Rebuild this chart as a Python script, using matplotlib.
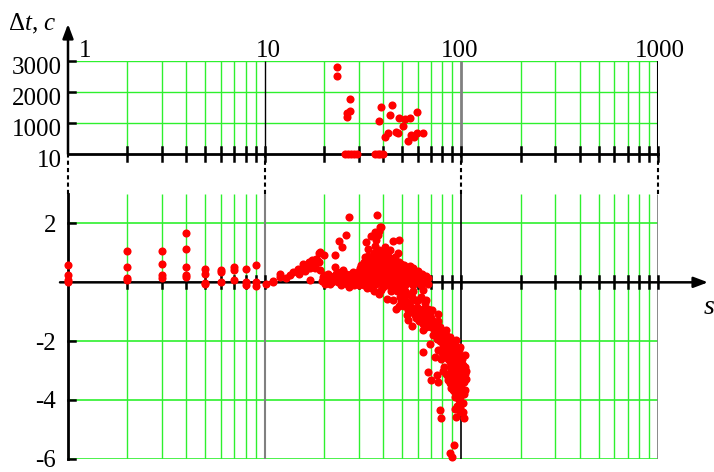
import matplotlib.pyplot as plt

plt.rcParams['font.family'] = ['Liberation Serif', 'DejaVu Serif']
plt.rcParams['mathtext.fontset'] = 'custom'
plt.rcParams['mathtext.rm'] = 'Liberation Serif'
plt.rcParams['mathtext.it'] = 'Liberation Serif:italic'

# ============================================================================
# data: s (log axis) vs delay dt
# ============================================================================

# upper panel: large delays
top_s = [23.2, 23.2, 27.2, 27.0, 26.1, 26.3, 25.6, 26.5, 27.5, 28.5, 29.5,
         39.2, 44.3, 38.2, 43.6, 48.3, 51.7, 54.8, 59.8, 50.3, 46.8, 47.6,
         42.3, 41.1, 53.5, 55.7, 59.2, 63.9, 57.4, 36.3, 37.5, 38.8, 40.0]
top_dt = [2817, 2527, 1769, 1402, 1318, 1210, 10, 10, 10, 10, 10,
          1511, 1585, 1071, 1264, 1158, 1126, 1158, 1370, 910, 727, 675,
          695, 566, 438, 621, 675, 695, 566, 10, 10, 10, 10]

# lower panel, small s
small_s = [1, 1, 1, 1, 2, 2, 2, 2, 3, 3, 3, 3, 4, 4, 4, 4, 4,
           5, 5, 5, 5, 6, 6, 6, 7, 7, 7, 8, 8, 8, 9, 9, 9,
           10.1, 11, 11, 12, 12, 12.9]
small_dt = [0.58, 0.24, 0.07, 0.0, 1.06, 0.52, 0.16, 0.09,
            1.08, 0.63, 0.26, 0.16, 1.67, 1.14, 0.52, 0.24, 0.18,
            0.46, 0.29, -0.02, -0.06, 0.41, 0.35, 0.0, 0.52, 0.41, 0.09,
            0.46, 0.0, -0.1, 0.58, 0.0, -0.12,
            -0.05, 0.05, 0.0, 0.18, 0.29, 0.16]

# rising part, s = 13..30
rise_s = [13.5, 14, 14.8, 15.1, 15.7, 16, 16.3, 16.9, 17, 17.5, 17.7, 18,
          18.2, 18.4, 18.9, 19.1, 19.1, 19.5, 19.8, 20, 20.2, 20.5, 21,
          21.5, 21.7, 22, 22.5, 22.7, 22.9, 23, 23.4, 23.5, 23.9, 24, 24.5,
          24.8, 25, 25, 25.5, 25.9, 26, 26.1, 26.5, 26.8, 26.8, 27.2, 27.5,
          28, 28.5, 29.2, 29.5,
          15, 16, 17, 18, 19, 20, 21, 21.5, 22, 23, 24, 24.5, 25, 26, 27,
          27.5, 28, 29]
rise_dt = [0.25, 0.35, 0.46, 0.41, 0.63, 0.55, 0.46, 0.69, 0.07, 0.75, 0.58,
           0.5, 0.8, 0.75, 0.99, 1.03, 0.41, 0.05, 0.18, 0.92, -0.05, 0.07,
           0.15, -0.05, 0.12, 0.1, 0.2, 0.92, 0.52, 0.18, 0.35, 0.0, 1.4,
           0.25, -0.1, 1.2, 0.41, 0.08, 0.3, 1.62, 0.15, -0.05, 0.0, 2.21,
           -0.16, 0.24, 0.05, 0.35, -0.1, 0.07, 0.2,
           0.3, 0.4, 0.5, 0.6, 0.7, 0.25, 0.3, 0.2, 0.0, 0.3, 0.1, 0.35,
           0.2, 0.3, -0.05, 0.3, 0.15, 0.0]

# dense cloud, s = 29..68
blob_s = [29, 30, 30, 30.5, 31, 31.5, 32, 32, 33, 33, 33, 33.5, 34, 34, 34.5,
          35, 35, 35, 35.5, 36, 36, 36, 36, 36.5, 36.5, 37, 37, 37, 37, 37.5,
          37.5, 37.5, 38, 38, 38, 38, 38, 38, 38.5, 38.5, 39, 39, 39, 39,
          39.5, 39.5, 40, 40, 40, 40, 40.5, 40.5, 41, 41, 41, 41, 41.5, 41.7,
          42, 42, 42, 42.5, 43, 43, 43.5, 43.6, 44, 44, 44.5, 45, 45, 45,
          46, 46, 46.5, 47, 47.5, 47.7, 48, 48, 48.5, 49, 49, 49.6, 50, 50.5,
          51, 52, 52, 52.6, 53, 54, 55, 56, 57, 58, 59, 60, 61, 62, 63, 63.8,
          65, 66, 67.7, 68, 37.1, 34.8, 36.3, 32.9, 33.5, 39]
blob_dt = [0.3, 0.15, -0.1, 0.5, 0.0, 0.35, 0.7, -0.1, 0.2, 0.55, -0.2, 0.9,
           0.05, 0.4, 0.75, -0.2, 0.25, 0.5, 0.6, 1.0, 0.1, 0.7, -0.3, 0.45,
           1.25, 0.8, -0.05, 0.55, 1.45, 0.3, 0.95, 1.6, 0.65, 1.1, 0.4, 0.0,
           -0.4, 1.75, 0.15, 1.88, 0.5, -0.25, 0.7, 0.25, 0.85, 1.0, 0.35,
           0.0, 0.55, 0.15, 0.7, 1.05, 0.2, 1.2, 0.8, 0.45, 0.55, -0.55,
           -0.1, 0.4, 0.65, 0.9, 0.1, 0.65, 0.3, 1.11, -0.3, 0.5, 0.8, 0.15,
           0.35, 1.42, 0.6, -0.05, 0.25, 0.45, 0.05, 0.99, 0.7, 1.45, 0.3,
           -0.2, 0.5, 0.63, 0.1, 0.35, 0.6, 0.2, -0.1, -0.38, 0.4, 0.1, 0.3,
           -0.05, 0.5, 0.15, 0.0, 0.4, 0.1, -0.1, 0.3, -0.27, 0.0, 0.2, 0.16,
           -0.05, 2.27, 1.59, 1.71, 1.37, 1.14, 1.88]

# filling of the cloud core
core_s = [29.5, 30, 31, 31, 32, 32, 32.5, 33, 33.5, 34, 34, 34.5, 35, 35,
          35.5, 36, 36, 36.5, 36.5, 37, 37, 37.5, 38, 38, 38.5, 39, 39, 39.5,
          39.5, 40, 40, 40.5, 41, 41, 41.5, 42, 42, 42.5, 43, 43, 43.5, 44,
          44, 44.5, 45, 45, 45.5, 46, 46, 47, 47, 48, 48, 49, 50, 50, 51, 52,
          53, 54, 55, 56, 58, 57, 60, 62]
core_dt = [0.05, 0.4, 0.25, 0.6, 0.1, 0.45, 0.85, 0.35, 0.0, 0.6, -0.15,
           0.25, 0.05, 0.85, 0.35, 0.2, 0.5, 0.0, 0.9, 0.35, 0.15, 0.65, 0.25,
           0.85, 0.5, 0.05, 0.95, 0.35, 0.6, 0.8, -0.15, 0.45, 0.05, 0.65,
           0.3, 0.15, 0.85, 0.5, -0.1, 0.4, 0.75, 0.2, 0.6, 0.4, 0.0, 0.65,
           0.5, 0.35, 0.85, 0.15, 0.65, 0.0, 0.45, 0.25, 0.45, -0.1, 0.3,
           0.45, 0.05, 0.3, 0.55, 0.2, 0.35, -0.1, 0.15, 0.25]

# falling tail, s = 45..106
tail_s = [45, 46, 46.8, 47, 48, 49, 49.6, 50, 52, 53, 53.6, 53.6, 54, 55,
          56.3, 57, 58, 59, 59.2, 60, 61, 62, 63, 63.8, 63.8, 64, 65, 66,
          66.4, 67, 68, 69.1, 70, 71, 71.7, 72, 73, 74.8, 75.8, 76, 77.7, 78,
          80, 80.9, 82, 83.9, 83.9, 85, 87.3, 88, 90, 90.8, 94.3, 95, 98.6,
          69.1, 63.8, 73.2, 82.7, 85.5, 86, 87.3, 92.6, 96.6, 104, 100, 93,
          89, 82, 104, 100, 97, 105, 67.7, 74.8, 84, 90.8, 102, 94, 106, 70.5,
          75.8, 85.5, 96.6, 99, 87.3, 91, 92.6, 90.8, 104, 96, 100, 96.6,
          92.6, 98, 101.9, 98.6, 94.3, 103, 77.7, 78.7, 91.7, 87.3, 89.6,
          78, 80, 84, 86, 88, 89, 91, 92, 93, 94, 95, 96, 97, 98, 99, 101,
          102, 103, 100, 98, 95, 93, 89, 88, 86, 92, 97, 99, 95, 100, 76, 79,
          81,
          50, 51, 52, 54, 55, 56, 57, 58, 60, 61, 62, 64, 65, 66, 68, 69, 70,
          72, 74, 75, 77, 79, 81, 82, 84, 86, 87, 89, 90, 91, 92, 93, 94, 95,
          96, 97, 98, 99, 100, 101, 102, 103, 104, 97, 94, 91, 89, 88, 96,
          100, 102, 93]
tail_dt = [-0.6, -0.1, -0.9, -0.3, -0.8, -0.5, -0.67, -0.2, -0.6, -1.1,
           -0.95, -1.27, -0.4, -0.8, -1.49, -0.3, -0.6, -1.2, -0.84, -0.9,
           -1.3, -0.5, -1.0, -1.23, -1.63, -1.4, -0.7, -1.1, -0.61, -1.2,
           -0.9, -1.4, -1.2, -0.95, -1.51, -1.3, -1.6, -1.91, -1.06, -1.3,
           -1.63, -1.5, -1.8, -2.14, -1.9, -1.63, -1.97, -2.0, -1.85, -2.3,
           -2.5, -2.25, -1.97, -2.2, -2.19, -2.1, -2.36, -2.55, -2.42, -2.47,
           -2.6, -2.64, -2.64, -2.47, -2.47, -2.7, -2.8, -2.87, -2.87, -2.87,
           -2.98, -3.0, -3.0, -3.04, -3.15, -3.1, -3.1, -3.2, -3.2, -3.27,
           -3.3, -3.38, -3.32, -3.38, -3.1, -3.43, -3.4, -3.55, -3.66, -3.66,
           -3.6, -3.5, -3.83, -3.89, -3.9, -4.11, -4.28, -4.57, -4.6, -4.34,
           -4.6, -5.53, -5.81, -5.92,
           -2.0, -2.4, -2.2, -1.9, -2.0, -2.3, -2.1, -2.4, -2.0, -2.6, -2.9,
           -2.7, -2.3, -2.6, -2.9, -2.6, -3.0, -3.4, -3.3, -3.5, -3.4, -3.1,
           -3.0, -2.7, -3.2, -3.7, -4.0, -4.4, -4.2, -3.8, -2.3, -2.6, -3.0,
           -0.4, -0.8, -0.3, -0.7, -1.0, -0.5, -0.9, -1.1, -0.6, -1.0, -1.2,
           -0.9, -1.3, -1.5, -1.3, -1.1, -1.5, -1.8, -1.4, -1.7, -1.9, -1.7,
           -2.0, -2.2, -1.8, -2.2, -2.5, -2.0, -2.8, -2.6, -3.0, -2.5, -2.3,
           -2.6, -3.1, -2.8, -3.2, -2.5, -3.0, -3.3, -2.8, -3.8, -3.1, -3.6,
           -3.7, -3.2, -3.6, -3.2, -4.3, -4.1, -4.4, -4.3]

top_yticks = [10, 1000, 2000, 3000]
low_yticks = [2, -2, -4, -6]
decades = [1, 10, 100, 1000]
decade_labels = ['1', '10', '100', '1000']

# ============================================================================
# figure
# ============================================================================
W, H = 714, 472
GREEN = '#2ef02e'
RED = '#ff0000'
GRAY = '#808080'
FS = 18

fig = plt.figure(figsize=(W / 100, H / 100), dpi=100)
ax_top = fig.add_axes([68 / W, 1 - 154 / H, 590 / W, 93 / H])
ax_low = fig.add_axes([68 / W, 1 - 459 / H, 590 / W, 265 / H])

for ax, lim in ((ax_top, (10, 3000)), (ax_low, (-6, 3))):
    ax.set_xscale('log')
    ax.set_xlim(1, 1000)
    ax.set_ylim(*lim)
    ax.set_axis_off()


def dy(ax, n):
    """n pixels -> data units along y"""
    y0, y1 = ax.get_ylim()
    return n * (y1 - y0) / (ax.get_position().height * H)


def xf(n):
    """n pixels -> multiplicative factor along log x"""
    return 10 ** (n / (590 / 3))


minor_x = [m * 10 ** k for k in range(3) for m in range(2, 10)]
tick_x = [m * 10 ** k for k in range(3) for m in range(2, 11)]

# grid
ax_top.vlines(minor_x, 10, 3000, colors=GREEN, lw=1, zorder=1)
ax_top.hlines(top_yticks[1:], 1, 1000, colors=GREEN, lw=1, zorder=1)
ax_low.vlines(minor_x, -6, 3, colors=GREEN, lw=1, zorder=1)
ax_low.hlines(low_yticks, 1, 1000, colors=GREEN, lw=1.2, zorder=1)

# decade lines
for x, c, w in ((10, 'k', 1.0), (100, GRAY, 2.0), (1000, 'k', 1.5)):
    ax_top.vlines(x, 10, 3000, colors=c, lw=w, zorder=2)
for x, c, w in ((10, GRAY, 1.5), (100, 'k', 1.2), (1000, GRAY, 2.0)):
    ax_low.vlines(x, -6, 3, colors=c, lw=w, zorder=2)

# dotted links between the panels
ax_low.vlines(decades, 3, 3 + dy(ax_low, 40), colors='k', lw=1.5,
              linestyles=(0, (2, 1.5)), clip_on=False, zorder=2)

# axes lines
arrow = dict(arrowstyle='-|>,head_length=0.85,head_width=0.32', color='k',
             lw=1.8, shrinkA=0, shrinkB=0)
ax_top.plot([1, 1000], [10, 10], color='k', lw=2, zorder=3, clip_on=False)
ax_top.annotate('', xy=(1, 10 + dy(ax_top, 130)), xytext=(1, 10),
                arrowprops=arrow, annotation_clip=False)
ax_low.plot([1, 1], [-6, 3], color='k', lw=2, zorder=3, clip_on=False)
ax_low.annotate('', xy=(xf(640), 0), xytext=(xf(-8), 0),
                arrowprops=arrow, annotation_clip=False)

# ticks
for ax, y0, n in ((ax_top, 10, 7), (ax_low, 0, 6)):
    for x in tick_x:
        ax.plot([x, x], [y0 - dy(ax, n), y0 + dy(ax, n)], color='k',
                lw=1.8, zorder=3, clip_on=False)
for ax, ticks in ((ax_top, top_yticks[1:]), (ax_low, low_yticks)):
    for y in ticks:
        ax.plot([1, xf(7)], [y, y], color='k', lw=1.8, zorder=3,
                clip_on=False)

# tick labels
for ax, ticks, right, down in ((ax_top, top_yticks, 62, -9.5),
                               (ax_low, low_yticks, 56, -6)):
    for y in ticks:
        ax.annotate(f'{y}', xy=(1, y), xytext=((right - 68) * 0.72, down),
                    textcoords='offset points', ha='right', va='baseline',
                    fontsize=FS, annotation_clip=False)
for x, lab, off in zip(decades, decade_labels, [17, 4, -2, 2]):
    ax_top.annotate(lab, xy=(x, 3000), xytext=(off * 0.72, 3),
                    textcoords='offset points', ha='center', va='baseline',
                    fontsize=FS, annotation_clip=False)

# axis names
fig.text(8 / W, 1 - 30 / H, r'$\Delta t,\, c$', fontsize=FS, va='baseline')
ax_low.annotate(r'$s$', xy=(xf(641), 0), xytext=(0, -18),
                textcoords='offset points', ha='center', va='center',
                fontsize=20, annotation_clip=False)

# points
ax_top.scatter(top_s, top_dt, s=34, color=RED, linewidths=0, zorder=5,
               clip_on=False)
for xs_, ys_ in ((small_s, small_dt), (rise_s, rise_dt), (blob_s, blob_dt),
                 (core_s, core_dt), (tail_s, tail_dt)):
    ax_low.scatter(xs_, ys_, s=34, color=RED, linewidths=0, zorder=5,
                   clip_on=False)

fig.savefig('out.png', dpi=100)
